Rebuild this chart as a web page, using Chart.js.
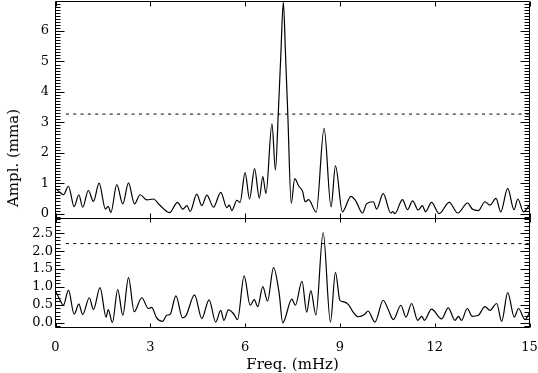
<!DOCTYPE html>
<html><head><meta charset="utf-8">
<script src="https://cdn.jsdelivr.net/npm/chart.js@4"></script>
<style>
html,body{margin:0;padding:0;background:#fff;}
#wrap{position:relative;width:538px;height:373px;overflow:hidden;background:#fff;}
canvas{position:absolute;left:0;top:0;}
#ylab{position:absolute;left:13px;top:158px;transform:translate(-50%,-50%) rotate(-90deg);font-family:'DejaVu Serif';font-size:15px;color:#000;white-space:nowrap;}
</style></head>
<body><div id="wrap">
<canvas id="c1" width="538" height="373" style="width:538px;height:373px"></canvas>
<canvas id="c2" width="538" height="373" style="width:538px;height:373px"></canvas>
<div id="ylab">Ampl. (mma)</div>
</div>
<script>
// ---- data ----
const xTickValues = [0, 3, 6, 9, 12, 15];
const topTickValues = [0, 1, 2, 3, 4, 5, 6];
const bottomTickValues = [0, 0.5, 1.0, 1.5, 2.0, 2.5];

const topFreq = [0.00,0.14,0.25,0.41,0.59,0.74,0.86,1.04,1.20,1.38,1.58,1.67,1.75,1.94,2.13,2.31,2.50,2.68,2.89,3.10,3.29,3.61,3.86,4.03,4.16,4.26,4.47,4.63,4.79,5.00,5.23,5.42,5.50,5.58,5.74,5.84,6.00,6.14,6.30,6.45,6.56,6.66,6.85,6.96,7.05,7.13,7.21,7.28,7.35,7.46,7.57,7.70,7.82,7.90,8.01,8.25,8.50,8.72,8.86,9.08,9.35,9.50,9.72,9.84,10.06,10.16,10.37,10.61,10.67,10.74,10.98,11.14,11.30,11.48,11.61,11.71,11.90,12.14,12.46,12.73,13.04,13.19,13.38,13.59,13.75,13.94,14.09,14.31,14.51,14.63,14.81,15.00];
const topAmp  = [0.82,0.70,0.62,0.90,0.23,0.62,0.21,0.76,0.40,1.00,0.15,0.24,0.03,0.95,0.32,1.01,0.32,0.62,0.45,0.48,0.29,0.03,0.37,0.15,0.26,0.07,0.64,0.26,0.61,0.21,0.70,0.20,0.28,0.10,0.44,0.37,1.35,0.48,1.48,0.51,1.22,0.66,2.95,1.43,3.30,5.20,6.95,5.20,3.30,0.34,1.15,0.90,0.73,0.39,0.46,0.05,2.80,0.22,1.57,0.06,0.57,0.42,0.02,0.32,0.39,0.15,0.66,0.02,0.07,0.00,0.46,0.13,0.42,0.12,0.26,0.06,0.37,0.00,0.37,0.02,0.35,0.15,0.10,0.39,0.28,0.50,0.06,0.83,0.13,0.48,0.06,0.28];

const botFreq = [0.00,0.12,0.25,0.41,0.59,0.74,0.86,1.07,1.20,1.41,1.60,1.67,1.80,1.97,2.13,2.31,2.49,2.73,2.94,3.04,3.20,3.39,3.52,3.63,3.81,4.02,4.13,4.40,4.63,4.86,5.07,5.23,5.33,5.47,5.63,5.76,5.97,6.16,6.29,6.40,6.56,6.71,6.90,7.08,7.19,7.48,7.59,7.80,7.95,8.08,8.24,8.47,8.70,8.86,9.00,9.10,9.27,9.42,9.58,9.79,9.89,10.11,10.37,10.53,10.69,10.93,11.09,11.27,11.46,11.59,11.67,11.90,12.22,12.43,12.64,12.75,12.85,13.03,13.19,13.38,13.59,13.75,13.96,14.12,14.31,14.52,14.65,14.86,15.00];
const botAmp  = [0.89,0.68,0.49,0.91,0.24,0.52,0.23,0.70,0.37,0.98,0.16,0.37,0.01,0.93,0.21,1.26,0.31,0.70,0.40,0.43,0.14,0.04,0.21,0.24,0.75,0.14,0.20,0.78,0.12,0.64,0.02,0.35,0.07,0.36,0.26,0.09,1.31,0.49,0.65,0.45,1.01,0.61,1.54,0.81,0.00,0.66,0.49,1.16,0.30,0.90,0.22,2.52,0.02,1.41,0.63,0.59,0.51,0.30,0.17,0.24,0.33,0.02,0.63,0.37,0.09,0.49,0.16,0.54,0.07,0.18,0.07,0.38,0.11,0.42,0.07,0.18,0.07,0.40,0.18,0.21,0.45,0.35,0.54,0.04,0.84,0.16,0.40,0.09,0.28];

const topThreshold = 3.27;
const botThreshold = 2.21;
const thresholdFreq = [0.33, 15];
const minorStep = 0.1;

// ---- drawing ----
const FONT = 'DejaVu Serif';
function pts(xs, ys){ return xs.map((f,i)=>({x:f, y:ys[i]})); }

const frameTicks = {
  id: 'frameTicks',
  afterDatasetsDraw(chart, args, opts){
    const {ctx, chartArea:{left,right,top,bottom}} = chart;
    const x = chart.scales.x, y = chart.scales.y;
    ctx.save();
    ctx.strokeStyle = '#000'; ctx.lineWidth = 1;
    ctx.beginPath();
    ctx.rect(left, top, right-left, bottom-top);
    for (const v of xTickValues){
      const px = Math.round(x.getPixelForValue(v)) + 0.5;
      ctx.moveTo(px, bottom); ctx.lineTo(px, bottom - opts.xLen);
      ctx.moveTo(px, top); ctx.lineTo(px, top + opts.xLen);
    }
    for (let k = Math.ceil(y.min/minorStep); k <= Math.floor(y.max/minorStep); k++){
      const v = k*minorStep;
      const major = opts.majors.some(m => Math.abs(m - v) < 1e-6);
      const len = major ? 9 : 5;
      const py = Math.round(y.getPixelForValue(v)) + 0.5;
      ctx.moveTo(left, py); ctx.lineTo(left + len, py);
      ctx.moveTo(right, py); ctx.lineTo(right - len, py);
    }
    ctx.stroke();
    ctx.restore();
  }
};

function yScale(min, max, ticks, pad, fmt){
  return {
    type:'linear', min, max,
    afterBuildTicks(s){ s.ticks = ticks.map(v=>({value:v})); },
    afterFit(s){ s.width = 55.5; s.paddingTop = 0; s.paddingBottom = 0; },
    grid:{display:false, drawTicks:false},
    border:{display:false},
    ticks:{font:{family:FONT, size:13}, color:'#000', padding:pad, callback: fmt}
  };
}

const common = {
  responsive:false, animation:false, devicePixelRatio:1,
  plugins:{legend:{display:false}, tooltip:{enabled:false}}
};

new Chart(document.getElementById('c1'), {
  type:'line',
  data:{datasets:[
    {data:pts(topFreq, topAmp), borderColor:'#000', borderWidth:1.2, pointRadius:0, cubicInterpolationMode:'monotone'},
    {data:pts(thresholdFreq, thresholdFreq.map(()=>topThreshold)), borderColor:'#000', borderWidth:1, borderDash:[3,4.3], pointRadius:0}
  ]},
  options:Object.assign({}, common, {
    layout:{padding:{left:0, right:8.5, top:1.5, bottom:373-218.5}},
    plugins:Object.assign({}, common.plugins, {frameTicks:{xLen:5, majors:topTickValues}}),
    scales:{
      x:{type:'linear', min:0, max:15, display:false},
      y:yScale(-0.16, 6.97, topTickValues, 6.5, v=>String(v))
    }
  }),
  plugins:[frameTicks]
});

new Chart(document.getElementById('c2'), {
  type:'line',
  data:{datasets:[
    {data:pts(botFreq, botAmp), borderColor:'#000', borderWidth:1.2, pointRadius:0, cubicInterpolationMode:'monotone'},
    {data:pts(thresholdFreq, thresholdFreq.map(()=>botThreshold)), borderColor:'#000', borderWidth:1, borderDash:[3,4.3], pointRadius:0}
  ]},
  options:Object.assign({}, common, {
    layout:{padding:{left:0, right:8.5, top:218.5, bottom:0}},
    plugins:Object.assign({}, common.plugins, {frameTicks:{xLen:4, majors:bottomTickValues}}),
    scales:{
      x:{type:'linear', min:0, max:15,
        afterBuildTicks(s){ s.ticks = xTickValues.map(v=>({value:v})); },
        afterFit(s){ s.height = 373-327.5; s.paddingLeft = 0; s.paddingRight = 0; },
        grid:{display:false, drawTicks:false}, border:{display:false},
        ticks:{font:{family:FONT, size:13}, color:'#000', padding:12, maxRotation:0, autoSkip:false, callback:v=>String(v)},
        title:{display:true, text:'Freq. (mHz)', font:{family:FONT, size:15}, color:'#000', padding:{top:0, bottom:-1}}
      },
      y:yScale(-0.13, 2.91, bottomTickValues, 2.5, v=>v.toFixed(1))
    }
  }),
  plugins:[frameTicks]
});
</script>
</body></html>
